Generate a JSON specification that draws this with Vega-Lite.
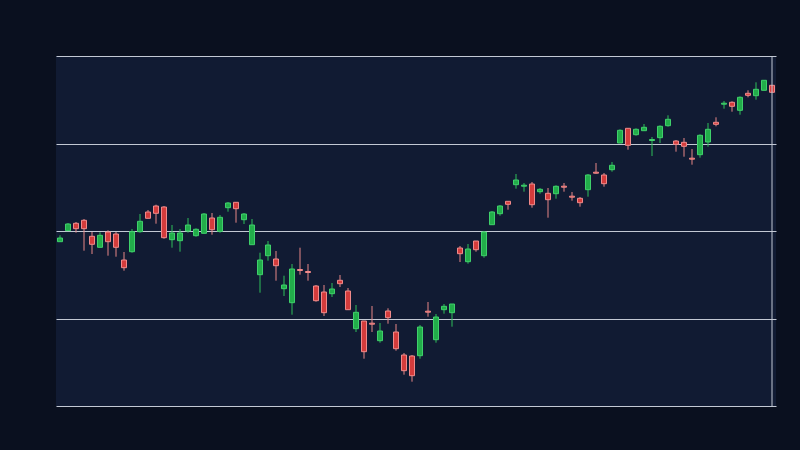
{
  "$schema": "https://vega.github.io/schema/vega-lite/v6.json",
  "width": 720,
  "height": 350,
  "autosize": "none",
  "padding": {"left": 56, "top": 56, "right": 24, "bottom": 44},
  "background": "#0a101f",
  "data": {
    "values": [
      {"i": 1, "o": 164.3, "h": 170.7, "l": 164.3, "c": 168},
      {"i": 2, "o": 175.3, "h": 183, "l": 175.3, "c": 182},
      {"i": 3, "o": 182.7, "h": 184, "l": 173.3, "c": 177.3},
      {"i": 4, "o": 185.7, "h": 187, "l": 155.3, "c": 177.3},
      {"i": 5, "o": 169.7, "h": 174, "l": 152, "c": 161.7},
      {"i": 6, "o": 158.7, "h": 173.7, "l": 158.7, "c": 170.7},
      {"i": 7, "o": 174, "h": 175.7, "l": 150.3, "c": 164.3},
      {"i": 8, "o": 172, "h": 174, "l": 149.3, "c": 158.7},
      {"i": 9, "o": 146, "h": 154, "l": 135.3, "c": 138.3},
      {"i": 10, "o": 154.3, "h": 177, "l": 153.3, "c": 174.3},
      {"i": 11, "o": 174.3, "h": 192, "l": 173.3, "c": 184.7},
      {"i": 12, "o": 194, "h": 196, "l": 187.7, "c": 187.7},
      {"i": 13, "o": 200, "h": 201.3, "l": 182.3, "c": 192.7},
      {"i": 14, "o": 199, "h": 200, "l": 167.3, "c": 168.3},
      {"i": 15, "o": 166.3, "h": 181, "l": 158.3, "c": 173},
      {"i": 16, "o": 165.3, "h": 177, "l": 154.3, "c": 173},
      {"i": 17, "o": 175, "h": 188, "l": 173.3, "c": 181},
      {"i": 18, "o": 170.3, "h": 177.7, "l": 169.3, "c": 176.7},
      {"i": 19, "o": 172.7, "h": 193, "l": 172.7, "c": 192},
      {"i": 20, "o": 188, "h": 193, "l": 171.3, "c": 176.3},
      {"i": 21, "o": 174.7, "h": 191, "l": 173.3, "c": 188.7},
      {"i": 22, "o": 198.3, "h": 204, "l": 194.3, "c": 203},
      {"i": 23, "o": 203.7, "h": 203.7, "l": 183.3, "c": 197.3},
      {"i": 24, "o": 186.3, "h": 193, "l": 182, "c": 192},
      {"i": 25, "o": 161.3, "h": 187, "l": 161.3, "c": 181},
      {"i": 26, "o": 131.3, "h": 153.3, "l": 113.3, "c": 146},
      {"i": 27, "o": 150.3, "h": 165, "l": 145.3, "c": 161},
      {"i": 28, "o": 147, "h": 155, "l": 125.3, "c": 140.3},
      {"i": 29, "o": 117.3, "h": 130.3, "l": 110, "c": 121},
      {"i": 30, "o": 103.3, "h": 142, "l": 91.3, "c": 137},
      {"i": 31, "o": 136.5, "h": 158.3, "l": 131.3, "c": 135.5},
      {"i": 32, "o": 134.5, "h": 142, "l": 125.3, "c": 133.5},
      {"i": 33, "o": 120, "h": 121, "l": 104.3, "c": 105.3},
      {"i": 34, "o": 114, "h": 121, "l": 90, "c": 93.3},
      {"i": 35, "o": 112.3, "h": 123, "l": 109, "c": 117},
      {"i": 36, "o": 125.7, "h": 131, "l": 119, "c": 122.3},
      {"i": 37, "o": 115, "h": 118, "l": 96.3, "c": 96.3},
      {"i": 38, "o": 77.3, "h": 101, "l": 74, "c": 93.7},
      {"i": 39, "o": 85, "h": 85, "l": 47.3, "c": 54.3},
      {"i": 40, "o": 82.8, "h": 100, "l": 74, "c": 81.8},
      {"i": 41, "o": 65.3, "h": 83, "l": 63.3, "c": 75},
      {"i": 42, "o": 95, "h": 97.7, "l": 82.3, "c": 88.3},
      {"i": 43, "o": 74, "h": 82, "l": 55.3, "c": 57.3},
      {"i": 44, "o": 51, "h": 53, "l": 31.3, "c": 35.3},
      {"i": 45, "o": 50, "h": 51, "l": 24.3, "c": 30.3},
      {"i": 46, "o": 50.3, "h": 81, "l": 47.3, "c": 79},
      {"i": 47, "o": 94.8, "h": 104, "l": 89.3, "c": 93.8},
      {"i": 48, "o": 66.3, "h": 92, "l": 63.3, "c": 89},
      {"i": 49, "o": 96.3, "h": 102, "l": 92.3, "c": 99.7},
      {"i": 50, "o": 93.3, "h": 102, "l": 79.3, "c": 102},
      {"i": 51, "o": 158, "h": 160, "l": 144, "c": 152.3},
      {"i": 52, "o": 144.3, "h": 162, "l": 142.3, "c": 157},
      {"i": 53, "o": 165, "h": 165, "l": 154.3, "c": 156.3},
      {"i": 54, "o": 150.3, "h": 175, "l": 148.3, "c": 174},
      {"i": 55, "o": 181.3, "h": 195, "l": 181.3, "c": 194},
      {"i": 56, "o": 192.3, "h": 201, "l": 190.3, "c": 200},
      {"i": 57, "o": 204.7, "h": 204.7, "l": 196.3, "c": 201.7},
      {"i": 58, "o": 221.3, "h": 232, "l": 217.3, "c": 226},
      {"i": 59, "o": 219.8, "h": 223, "l": 214.3, "c": 220.8},
      {"i": 60, "o": 222, "h": 224, "l": 198.3, "c": 201.3},
      {"i": 61, "o": 214.3, "h": 218, "l": 212.3, "c": 216.7},
      {"i": 62, "o": 212.7, "h": 218, "l": 188.3, "c": 206.3},
      {"i": 63, "o": 212.3, "h": 220.7, "l": 207.3, "c": 219.7},
      {"i": 64, "o": 219.8, "h": 223, "l": 214.3, "c": 218.8},
      {"i": 65, "o": 209.8, "h": 214, "l": 205.3, "c": 208.8},
      {"i": 66, "o": 207.7, "h": 209, "l": 199.3, "c": 203.3},
      {"i": 67, "o": 216.3, "h": 232, "l": 209.3, "c": 231},
      {"i": 68, "o": 233.8, "h": 243, "l": 232.3, "c": 232.8},
      {"i": 69, "o": 231, "h": 233, "l": 219.3, "c": 222.3},
      {"i": 70, "o": 236.3, "h": 244, "l": 234.3, "c": 240.7},
      {"i": 71, "o": 263, "h": 276.7, "l": 263, "c": 275.7},
      {"i": 72, "o": 277.7, "h": 277.7, "l": 256.3, "c": 260.7},
      {"i": 73, "o": 271.3, "h": 277.7, "l": 270.3, "c": 276.7},
      {"i": 74, "o": 275.3, "h": 282, "l": 275.3, "c": 278.7},
      {"i": 75, "o": 265.5, "h": 269, "l": 250, "c": 266.5},
      {"i": 76, "o": 268.3, "h": 280.7, "l": 263, "c": 279.7},
      {"i": 77, "o": 280.3, "h": 290.7, "l": 279.3, "c": 286.7},
      {"i": 78, "o": 265, "h": 266, "l": 254.3, "c": 261.7},
      {"i": 79, "o": 263.7, "h": 268, "l": 249.3, "c": 259.7},
      {"i": 80, "o": 247.8, "h": 257, "l": 241.3, "c": 246.8},
      {"i": 81, "o": 251.3, "h": 271.7, "l": 248.3, "c": 270.7},
      {"i": 82, "o": 264, "h": 283, "l": 259.3, "c": 276.7},
      {"i": 83, "o": 283.7, "h": 288.7, "l": 279.7, "c": 281.7},
      {"i": 84, "o": 301.8, "h": 305, "l": 297.3, "c": 302.8},
      {"i": 85, "o": 303.7, "h": 304.7, "l": 294.3, "c": 299.7},
      {"i": 86, "o": 295.7, "h": 309.7, "l": 291.3, "c": 308.7},
      {"i": 87, "o": 312.7, "h": 315.7, "l": 308.7, "c": 310.7},
      {"i": 88, "o": 310.3, "h": 323.7, "l": 306.3, "c": 316.7},
      {"i": 89, "o": 315.7, "h": 325.7, "l": 315.7, "c": 325.7},
      {"i": 90, "o": 320.7, "h": 320.7, "l": 313.7, "c": 313.7}
    ]
  },
  "encoding": {
    "x": {
      "field": "i",
      "type": "ordinal",
      "scale": {"paddingInner": 0, "paddingOuter": 0},
      "axis": null
    }
  },
  "layer": [
    {
      "mark": {"type": "rule", "strokeWidth": 1},
      "encoding": {
        "y": {
          "field": "l",
          "type": "quantitative",
          "scale": {"domain": [0, 350], "nice": false, "zero": false},
          "axis": {
            "values": [0, 87.5, 175, 262.5, 350],
            "grid": true,
            "gridColor": "#c3c9d4",
            "gridWidth": 1,
            "gridOpacity": 1,
            "labels": false,
            "ticks": false,
            "domain": false,
            "title": null
          }
        },
        "y2": {"field": "h"},
        "color": {
          "condition": {"test": "datum.c >= datum.o", "value": "#2fbf5a"},
          "value": "#e88787"
        }
      }
    },
    {
      "mark": {"type": "bar", "width": {"band": 0.625}, "strokeWidth": 1},
      "encoding": {
        "y": {"field": "o", "type": "quantitative"},
        "y2": {"field": "c"},
        "fill": {
          "condition": {"test": "datum.c >= datum.o", "value": "#22ad4a"},
          "value": "#d43c3c"
        },
        "stroke": {
          "condition": {"test": "datum.c >= datum.o", "value": "#3fd06b"},
          "value": "#f08a8a"
        }
      }
    },
    {
      "data": {"values": [{"i": 90}]},
      "mark": {"type": "rule", "color": "#c3c9d4", "strokeWidth": 1},
      "encoding": {}
    }
  ],
  "config": {
    "view": {"fill": "#111b33", "stroke": null}
  }
}
